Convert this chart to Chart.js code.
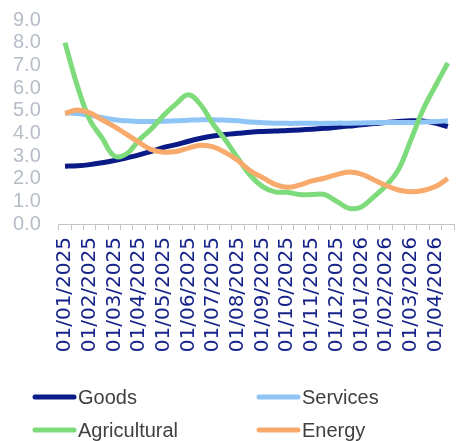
<!DOCTYPE html>
<html>
<head>
<meta charset="utf-8">
<script src="https://cdn.jsdelivr.net/npm/chart.js@4"></script>
<style>
  html, body { margin: 0; padding: 0; background: #fff; }
  #wrap { position: relative; width: 456px; height: 441px; }
</style>
</head>
<body>
<div id="wrap"><canvas id="inflation-chart"></canvas></div>
<script>
// monthly labels, shown on every other (half-month) category
var MONTHS = [
  '01/01/2025', '01/02/2025', '01/03/2025', '01/04/2025',
  '01/05/2025', '01/06/2025', '01/07/2025', '01/08/2025',
  '01/09/2025', '01/10/2025', '01/11/2025', '01/12/2025',
  '01/01/2026', '01/02/2026', '01/03/2026', '01/04/2026'
];
var SERIES_NAMES = ['Goods', 'Services', 'Agricultural', 'Energy'];
var SERIES_COLORS = ['#0a1a86', '#8ec4f6', '#7edb7b', '#f8aa6c'];

var GOODS = [2.55, 2.57, 2.62, 2.7, 2.8, 2.92, 3.05, 3.2, 3.38, 3.5, 3.65, 3.78, 3.88, 3.95, 4.0, 4.05,
  4.08, 4.1, 4.13, 4.15, 4.18, 4.22, 4.27, 4.32, 4.38, 4.43, 4.48, 4.52, 4.55, 4.55, 4.45, 4.3];
var SERVICES = [4.9, 4.88, 4.8, 4.7, 4.6, 4.55, 4.52, 4.52, 4.53, 4.55, 4.58, 4.6, 4.6, 4.58, 4.55, 4.5,
  4.47, 4.45, 4.44, 4.44, 4.44, 4.44, 4.45, 4.45, 4.46, 4.47, 4.48, 4.48, 4.48, 4.5, 4.52, 4.55];
var AGRICULTURAL = [8.0, 6.1, 4.6, 3.8, 3.0, 3.1, 3.7, 4.2, 4.8, 5.3, 5.7, 5.25, 4.4, 3.7, 2.9, 2.15,
  1.65, 1.42, 1.4, 1.3, 1.3, 1.3, 1.0, 0.69, 0.75, 1.2, 1.7, 2.4, 3.7, 5.05, 6.1, 7.1];
var ENERGY = [4.88, 5.03, 4.9, 4.6, 4.3, 3.95, 3.6, 3.28, 3.17, 3.2, 3.35, 3.47, 3.4, 3.15, 2.8, 2.35,
  2.05, 1.75, 1.62, 1.72, 1.9, 2.02, 2.18, 2.29, 2.2, 1.95, 1.7, 1.5, 1.42, 1.48, 1.65, 2.0];

var SANS = '"Liberation Sans", Arial, sans-serif';

// two categories per month, the second one unlabelled
var labels = [];
MONTHS.forEach(function (m) { labels.push(m, ''); });

function makeDataset (i, values) {
  return {
    label: SERIES_NAMES[i],
    data: values,
    borderColor: SERIES_COLORS[i],
    backgroundColor: SERIES_COLORS[i],
    borderWidth: 5,
    pointRadius: 0,
    tension: 0.4,
    fill: false,
    // later series paint over earlier ones
    order: SERIES_NAMES.length - 1 - i
  };
}

// let the layout padding alone decide where the plot sits
function noScalePadding (scale) {
  scale.paddingLeft = 0;
  scale.paddingRight = 0;
  scale.paddingTop = 0;
  scale.paddingBottom = 0;
}

// 2x2 legend under the axis
var gridLegend = {
  id: 'gridLegend',
  afterDraw: function (chart) {
    var ctx = chart.ctx;
    var cols = [33, 257];
    var rows = [397, 430];
    chart.data.datasets.forEach(function (ds, i) {
      var x = cols[i % 2];
      var y = rows[Math.floor(i / 2)];
      ctx.save();
      ctx.strokeStyle = ds.borderColor;
      ctx.lineWidth = 5;
      ctx.lineCap = 'round';
      ctx.beginPath();
      ctx.moveTo(x + 2, y);
      ctx.lineTo(x + 41, y);
      ctx.stroke();
      ctx.fillStyle = '#404040';
      ctx.font = '20px ' + SANS;
      ctx.textBaseline = 'middle';
      ctx.fillText(ds.label, x + 45, y + 1);
      ctx.restore();
    });
  }
};

new Chart(document.getElementById('inflation-chart').getContext('2d'), {
  type: 'line',
  data: {
    labels: labels,
    datasets: [
      makeDataset(0, GOODS),
      makeDataset(1, SERVICES),
      makeDataset(2, AGRICULTURAL),
      makeDataset(3, ENERGY)
    ]
  },
  options: {
    responsive: true,
    maintainAspectRatio: false,
    animation: false,
    layout: { padding: { top: 20, left: -5, right: 2, bottom: 88 } },
    plugins: {
      legend: { display: false },
      tooltip: { enabled: false }
    },
    scales: {
      x: {
        type: 'category',
        offset: true,
        afterFit: function (scale) {
          scale.height = 129;
          noScalePadding(scale);
        },
        grid: {
          offset: true,
          drawOnChartArea: false,
          drawTicks: true,
          tickLength: 6,
          color: '#c3c3c3'
        },
        border: { display: true, color: '#c3c3c3' },
        ticks: {
          autoSkip: false,
          minRotation: 90,
          maxRotation: 90,
          padding: 7,
          color: '#16238a',
          font: { family: '"DejaVu Sans", sans-serif', size: 20 }
        }
      },
      y: {
        min: 0,
        max: 9,
        afterFit: noScalePadding,
        grid: { display: false, drawTicks: false },
        border: { display: false },
        ticks: {
          stepSize: 1,
          autoSkip: false,
          padding: 18,
          color: '#b6bdc8',
          font: { family: SANS, size: 20, lineHeight: 1 },
          callback: function (v) { return v.toFixed(1); }
        }
      }
    }
  },
  plugins: [gridLegend]
});
</script>
</body>
</html>
